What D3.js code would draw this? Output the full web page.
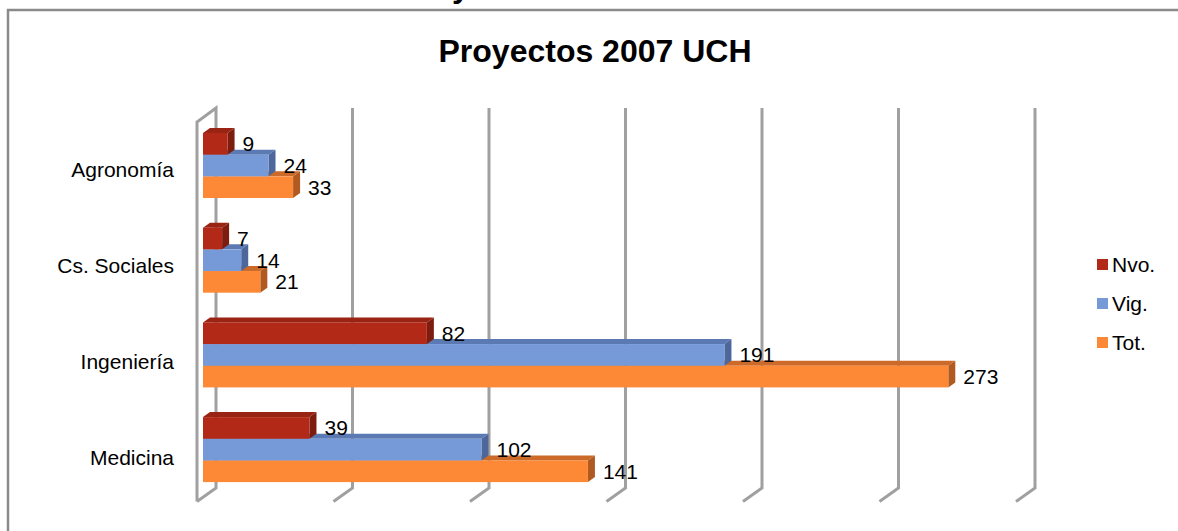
<!DOCTYPE html>
<html>
<head>
<meta charset="utf-8">
<script src="https://cdn.jsdelivr.net/npm/d3@7"></script>
<style>
  body { margin: 0; background: #fff; }
  text { font-family: Arial, "Liberation Sans", sans-serif; }
</style>
</head>
<body>
<svg id="chart" width="1178" height="531"></svg>
<script>
// data
var categories = ["Agronomía", "Cs. Sociales", "Ingeniería", "Medicina"];
var seriesNames = ["Nvo.", "Vig.", "Tot."];
var nvo = [9, 7, 82, 39];
var vig = [24, 14, 191, 102];
var tot = [33, 21, 273, 141];
var xTicks = [0, 50, 100, 150, 200, 250, 300];

var front = { "Nvo.": "#b22a17", "Vig.": "#7699d8", "Tot.": "#fd8937" };
var topC  = { "Nvo.": "#9a2414", "Vig.": "#5b79b2", "Tot.": "#cc6a2a" };
var side  = { "Nvo.": "#7c1d10", "Vig.": "#4d679c", "Tot.": "#b05a22" };

var svg = d3.select("#chart");

// outer border (right and bottom fall outside the picture)
svg.append("rect").attr("x", 8).attr("y", 10).attr("width", 1200).attr("height", 560)
  .attr("fill", "#fff").attr("stroke", "#8a8a8a").attr("stroke-width", 2.5);

// tail of a text above the chart, cut off
svg.append("text").attr("x", 452).attr("y", -3).attr("font-size", 32).attr("font-weight", "bold").text("y");

svg.append("text").attr("x", 595).attr("y", 62).attr("text-anchor", "middle")
  .attr("font-size", 32).attr("font-weight", "bold").text("Proyectos 2007 UCH");

var x = d3.scaleLinear().domain([0, 300]).range([203, 1022]);
var y = d3.scaleBand().domain(categories).range([103.3, 511.8]).paddingInner(0.3136).paddingOuter(0.3136);
var ys = d3.scaleBand().domain(seriesNames).range([0, y.bandwidth()]);
var yLabel = d3.scalePoint().domain(categories).range([169, 457]);

// floor / wall depth
var fx = -6, bx = 13, backTop = 108, backBottom = 488, frontBottom = 501.5;

var grid = svg.append("g").attr("fill", "none").attr("stroke", "#a0a0a0").attr("stroke-width", 3);
grid.selectAll("path").data(xTicks).enter().append("path")
  .attr("d", function(d, i){
    var xb = x(d) + bx, xf = x(d) + fx;
    var p = "M" + xb + "," + backTop + "L" + xb + "," + backBottom + "L" + xf + "," + frontBottom;
    if(i === 0) p = "M" + xf + "," + frontBottom + "L" + xf + "," + 122 + "L" + xb + "," + backTop + p.replace("M", "L");
    return p;
  });

var dx = 7, dy = 5;
var rows = [];
categories.forEach(function(c, i){
  rows.push({ cat: c, s: "Tot.", v: tot[i] });
  rows.push({ cat: c, s: "Vig.", v: vig[i] });
  rows.push({ cat: c, s: "Nvo.", v: nvo[i] });
});

var bars = svg.append("g").selectAll("g").data(rows).enter().append("g");
bars.each(function(d){
  var g = d3.select(this);
  var x0 = x(0), x1 = x(d.v), y0 = y(d.cat) + ys(d.s), h = ys.bandwidth();
  g.append("path").attr("fill", topC[d.s])
    .attr("d", "M" + x0 + "," + y0 + "L" + (x0 + dx) + "," + (y0 - dy) + "L" + (x1 + dx) + "," + (y0 - dy) + "L" + x1 + "," + y0 + "Z");
  g.append("path").attr("fill", side[d.s])
    .attr("d", "M" + x1 + "," + y0 + "L" + (x1 + dx) + "," + (y0 - dy) + "L" + (x1 + dx) + "," + (y0 + h - dy) + "L" + x1 + "," + (y0 + h) + "Z");
  g.append("rect").attr("x", x0).attr("y", y0).attr("width", x1 - x0).attr("height", h).attr("fill", front[d.s]);
});

svg.append("g").selectAll("text").data(rows).enter().append("text")
  .attr("x", function(d){ return x(d.v) + dx + 8; })
  .attr("y", function(d){ return y(d.cat) + ys(d.s) + ys.bandwidth() / 2; })
  .attr("dy", "0.36em").attr("font-size", 21).text(function(d){ return d.v; });

svg.append("g").selectAll("text").data(categories).enter().append("text")
  .attr("x", 174).attr("y", function(d){ return yLabel(d); })
  .attr("dy", "0.36em").attr("text-anchor", "end").attr("font-size", 21).text(function(d){ return d; });

var legend = svg.append("g").selectAll("g").data(seriesNames).enter().append("g")
  .attr("transform", function(d, i){ return "translate(1097," + (264 + i * 39) + ")"; });
legend.append("rect").attr("x", 0).attr("y", -5).attr("width", 11).attr("height", 11).attr("fill", function(d){ return front[d]; });
legend.append("text").attr("x", 15).attr("y", 0).attr("dy", "0.36em").attr("font-size", 21).text(function(d){ return d; });
</script>
</body>
</html>
